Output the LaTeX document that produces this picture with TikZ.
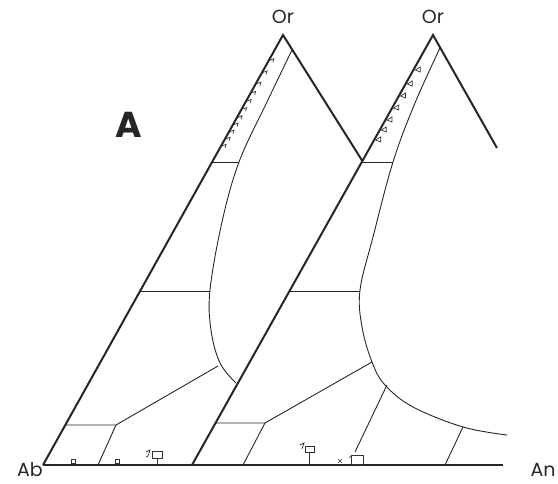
\documentclass[tikz,border=0pt]{standalone}
\usepackage{fontspec}
\setmainfont{Poppins}
\usetikzlibrary{calc}
\begin{document}
\begin{tikzpicture}[x=1pt,y=-1pt,
  edge/.style={line width=2pt, line join=miter, draw=black!85},
  bnd/.style={line width=0.9pt, draw=black!85},
  dmark/.style={line width=0.7pt, draw=black!80},
  lbl/.style={font=\fontsize{19}{19}\selectfont, inner sep=0pt, text=black!85},
  biglbl/.style={font=\fontsize{36}{36}\selectfont\bfseries, inner sep=0pt, text=black!85}]
\useasboundingbox (0,0) rectangle (558,484);
% main vertices
\coordinate (Ab) at (43,465);
\coordinate (Or1) at (283,35);
\coordinate (M) at (362.4,161);
\coordinate (B2) at (192,465);
\coordinate (Or2) at (433,35);
\coordinate (R2) at (497,148);
\coordinate (E) at (503,465);
% outer edges
\draw[edge] (Ab) -- (Or1) -- (M);
\draw[edge] (B2) -- (Or2) -- (R2);
\draw[edge] (Ab) -- (E);
% ---- triangle 1 inner boundaries
\draw[bnd] plot[smooth, tension=0.6] coordinates {(292,50) (266,104) (239,162) (222,222) (210,290) (211,330) (220,363) (236,383)};
\draw[bnd] (211.5,162) -- (239,162);
\draw[bnd] (138.5,291) -- (210,291);
\draw[bnd] (218,366) -- (116,425) -- (65,425);
\draw[bnd] (116,425) -- (98,465);
% ---- triangle 2 inner boundaries
\draw[bnd] plot[smooth, tension=0.6] coordinates {(440,48) (415,103) (393,162) (373,237) (360,290) (362,327) (372,362) (385,385) (413,407) (463,427) (507,435)};
\draw[bnd] (362.4,162) -- (393,162);
\draw[bnd] (290,291) -- (360,291);
\draw[bnd] (372,362) -- (265,423) -- (215.5,423);
\draw[bnd] (265,423) -- (243,465);
\draw[bnd] (387,385) -- (355,452);
\draw[bnd] (463,427) -- (445,465);
% ---- small data marks along edges
\foreach \t in {0.06,0.13,0.2,0.27,0.34,0.42,0.5,0.58,0.67,0.78,0.9} {
  \draw[dmark] ($(217.7,152)!\t!(274.6,50)$) ++(1,0) -- ++(4,-1.5) -- ++(-1,3.5);
}
\foreach \t in {0.1,0.2,0.3,0.42,0.54,0.66,0.8} {
  \draw[dmark] ($(369,150)!\t!(425.5,50)$) ++(1,0) -- ++(5,-3) -- ++(0,5) -- cycle;
}
% baseline marks
\draw[dmark] (71,459) rectangle (75,463);
\draw[dmark] (115,459) rectangle (119,463);
\draw[dmark] (146,452) -- (150,450) -- (148,456) -- (146,457);
\draw[dmark] (152,451) rectangle (162,458);
\draw[dmark] (157,458) -- (157,464);
\draw[dmark] (300,445) -- (304,443) -- (302,449);
\draw[dmark] (305,446) rectangle (314,452);
\draw[dmark] (309,452) -- (309,464);
\draw[dmark] (338,459) -- (342,463) (342,459) -- (338,463);
\draw[dmark] (351,455) rectangle (363,464);
\draw[dmark] (349,458) -- (352,455);
% labels
\node[lbl] (lor1) at (283,17) {Or};
\node[lbl] (lor2) at (433,17) {Or};
\node[lbl, anchor=east] (lab) at (43,470) {Ab};
\node[lbl] (lan) at (543,470) {An};
\node[biglbl] (la) at (129,125) {A};
\end{tikzpicture}
\end{document}
